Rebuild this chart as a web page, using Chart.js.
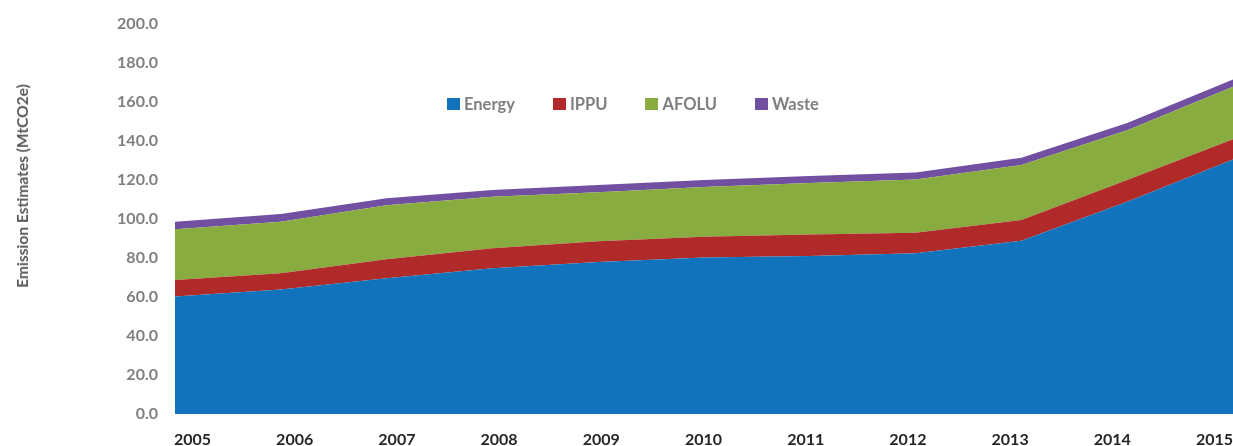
<!DOCTYPE html>
<html>
<head>
<meta charset="utf-8">
<script src="https://cdn.jsdelivr.net/npm/chart.js@4/dist/chart.umd.min.js"></script>
<style>
  html, body { margin: 0; padding: 0; background: #fff; overflow: hidden; }
  .wrap { position: relative; width: 1233px; height: 446px; }
  #emissionChart { position: absolute; left: 0; top: 0; }
  .y-title {
    position: absolute; left: 22px; top: 186px;
    transform: translate(-50%, -50%) rotate(-90deg);
    white-space: nowrap; font: bold 15.5px Lato, sans-serif; color: #595959;
  }
  .legend {
    position: absolute; left: 447px; top: 94px;
    display: flex; align-items: center;
    font: bold 16.5px Lato, sans-serif; color: #7f7f7f;
  }
  .legend .item { display: flex; align-items: center; margin-right: 38px; }
  .legend .box { width: 13px; height: 12px; margin-right: 4px; }
</style>
</head>
<body>
<div class="wrap">
  <canvas id="emissionChart" width="1233" height="446"></canvas>
  <div class="y-title">Emission Estimates (MtCO2e)</div>
  <div class="legend" id="legend"></div>
</div>
<script>
// values (MtCO2e)
const years = ["2005", "2006", "2007", "2008", "2009", "2010", "2011", "2012", "2013", "2014", "2015"];
const energy = [60.3, 63.9, 69.6, 74.7, 78.0, 80.2, 81.0, 82.5, 88.9, 108.9, 130.5];
const ippu = [8.4, 8.3, 9.7, 10.3, 10.6, 10.7, 11.0, 10.5, 10.6, 11.1, 10.4];
const afolu = [26.0, 26.4, 27.7, 26.4, 25.1, 25.5, 26.5, 27.2, 28.2, 25.5, 26.9];
const waste = [3.9, 4.0, 3.6, 3.5, 3.7, 3.6, 3.5, 3.6, 3.7, 3.7, 3.8];

const seriesNames = ["Energy", "IPPU", "AFOLU", "Waste"];
const seriesColors = ["#1173BB", "#B02A2A", "#88AC3F", "#7150A1"];

const tickFont = { family: "Lato", size: 16, weight: "bold" };

const makeArea = (label, data, color, fill) => ({
  label: label,
  data: data,
  backgroundColor: color,
  borderColor: color,
  borderWidth: 0,
  fill: fill,
  pointRadius: 0,
  pointHoverRadius: 0,
  tension: 0,
});

const chart = new Chart(document.getElementById("emissionChart"), {
  type: "line",
  data: {
    labels: years,
    datasets: [
      makeArea(seriesNames[0], energy, seriesColors[0], "origin"),
      makeArea(seriesNames[1], ippu, seriesColors[1], "-1"),
      makeArea(seriesNames[2], afolu, seriesColors[2], "-1"),
      makeArea(seriesNames[3], waste, seriesColors[3], "-1"),
    ],
  },
  options: {
    responsive: false,
    animation: false,
    layout: { padding: { top: 24, right: 0, bottom: 0, left: 0 } },
    plugins: { legend: { display: false }, tooltip: { enabled: false } },
    scales: {
      x: { type: "category", display: false, offset: false },
      // year labels sit slightly inside the data span, as in the source picture
      yearAxis: {
        type: "linear",
        position: "bottom",
        min: 2004.829,
        max: 2015.181,
        grid: { display: false, drawTicks: false },
        border: { display: false },
        afterBuildTicks: (scale) => {
          scale.ticks = scale.ticks.filter((t) => Number.isInteger(t.value));
        },
        afterFit: (scale) => {
          scale.height = 32;
          scale.paddingLeft = 0;
          scale.paddingRight = 0;
        },
        ticks: {
          stepSize: 1,
          includeBounds: false,
          autoSkip: false,
          maxRotation: 0,
          padding: 16,
          color: "#262626",
          font: tickFont,
          callback: (v) => String(v),
        },
      },
      y: {
        stacked: true,
        min: 0,
        max: 200,
        grid: { display: false, drawTicks: false },
        border: { display: false },
        afterFit: (scale) => {
          scale.width = 175;
          scale.paddingTop = 0;
          scale.paddingBottom = 0;
        },
        ticks: {
          stepSize: 20,
          padding: 17,
          color: "#7f7f7f",
          font: tickFont,
          callback: (v) => v.toFixed(1),
        },
      },
    },
  },
});

// html legend built from the chart's datasets
const legendEl = document.getElementById("legend");
chart.data.datasets.forEach((ds) => {
  const item = document.createElement("div");
  item.className = "item";
  const box = document.createElement("span");
  box.className = "box";
  box.style.background = ds.backgroundColor;
  const text = document.createElement("span");
  text.innerText = ds.label;
  item.append(box, text);
  legendEl.append(item);
});
</script>
</body>
</html>
